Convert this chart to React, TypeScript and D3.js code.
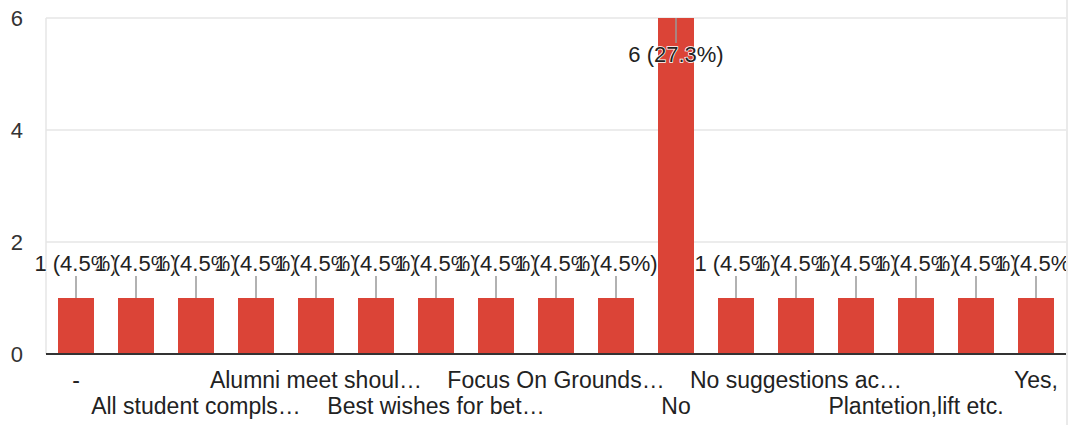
import React from "react";
import * as d3 from "d3";

const categories = [
  "-",
  "A few more suggestions",
  "All student compls…",
  "All good",
  "Alumni meet shoul…",
  "Arrange more events",
  "Best wishes for bet…",
  "Better facilities",
  "Focus On Grounds…",
  "Good",
  "No",
  "No suggestion",
  "No suggestions ac…",
  "Nothing",
  "Plantetion,lift etc.",
  "Very good",
  "Yes,",
];
const values = [1, 1, 1, 1, 1, 1, 1, 1, 1, 1, 6, 1, 1, 1, 1, 1, 1];
const total = 22;
const yTicks = [0, 2, 4, 6];

const W = 1076;
const H = 425;
const M = { left: 46, right: 1066, top: 18, bottom: 354 };
const FONT = "'Liberation Sans', Arial, sans-serif";

export default function App() {
  const x = d3
    .scaleBand<string>()
    .domain(categories)
    .range([M.left, M.right])
    .paddingInner(0.4)
    .paddingOuter(0.2);
  const y = d3.scaleLinear().domain([0, 6]).range([M.bottom, M.top]);

  return (
    <svg
      width={W}
      height={H}
      style={{ position: "absolute", left: 0, top: 0, background: "#fff" }}
      fontFamily={FONT}
    >
      <defs>
        <clipPath id="clipR">
          <rect x={0} y={0} width={M.right} height={H} />
        </clipPath>
      </defs>
      {yTicks.map((t) => (
        <line
          key={t}
          x1={M.left}
          x2={M.right}
          y1={y(t)}
          y2={y(t)}
          stroke="#e6e6e6"
          strokeWidth={1.5}
        />
      ))}
      <line x1={M.left} x2={M.left} y1={M.top} y2={M.bottom} stroke="#e6e6e6" strokeWidth={1.5} />
      <line x1={1067} x2={1067} y1={0} y2={H} stroke="#e3e3e3" strokeWidth={1.5} />
      {yTicks.map((t) => (
        <text
          key={t}
          x={23}
          y={y(t)}
          dy="0.36em"
          textAnchor="end"
          fontSize={22}
          fill="#333"
        >
          {t}
        </text>
      ))}
      {categories.map((c, i) => (
        <rect
          key={c}
          x={x(c)}
          y={y(values[i])}
          width={x.bandwidth()}
          height={y(0) - y(values[i])}
          fill="#db4437"
        />
      ))}
      <line x1={M.left} x2={M.right} y1={y(0)} y2={y(0)} stroke="#333" strokeWidth={2} />
      <g clipPath="url(#clipR)">
        {categories.map((c, i) => {
          const cx = (x(c) as number) + x.bandwidth() / 2;
          const top = y(values[i]);
          const outside = top - 44 > 0;
          const ty = outside ? top - 27 : top + 44;
          const ly1 = outside ? top - 22 : top;
          const ly2 = outside ? top : top + 25;
          const pct = ((values[i] / total) * 100).toFixed(1);
          return (
            <g key={c}>
              <line x1={cx} x2={cx} y1={ly1} y2={ly2} stroke="#999" strokeWidth={1.5} />
              <text
                x={cx}
                y={ty}
                textAnchor="middle"
                fontSize={22}
                fill="#222"
                stroke="#fff"
                strokeWidth={1.5}
                paintOrder="stroke"
              >
                {`${values[i]} (${pct}%)`}
              </text>
            </g>
          );
        })}
      </g>
      {categories.map((c, i) => {
        if (i % 2 !== 0) return null;
        const cx = (x(c) as number) + x.bandwidth() / 2;
        const row = (i / 2) % 2;
        return (
          <text
            key={c}
            x={cx}
            y={row === 0 ? 388 : 414}
            textAnchor="middle"
            fontSize={23}
            fill="#222"
          >
            {c}
          </text>
        );
      })}
    </svg>
  );
}
